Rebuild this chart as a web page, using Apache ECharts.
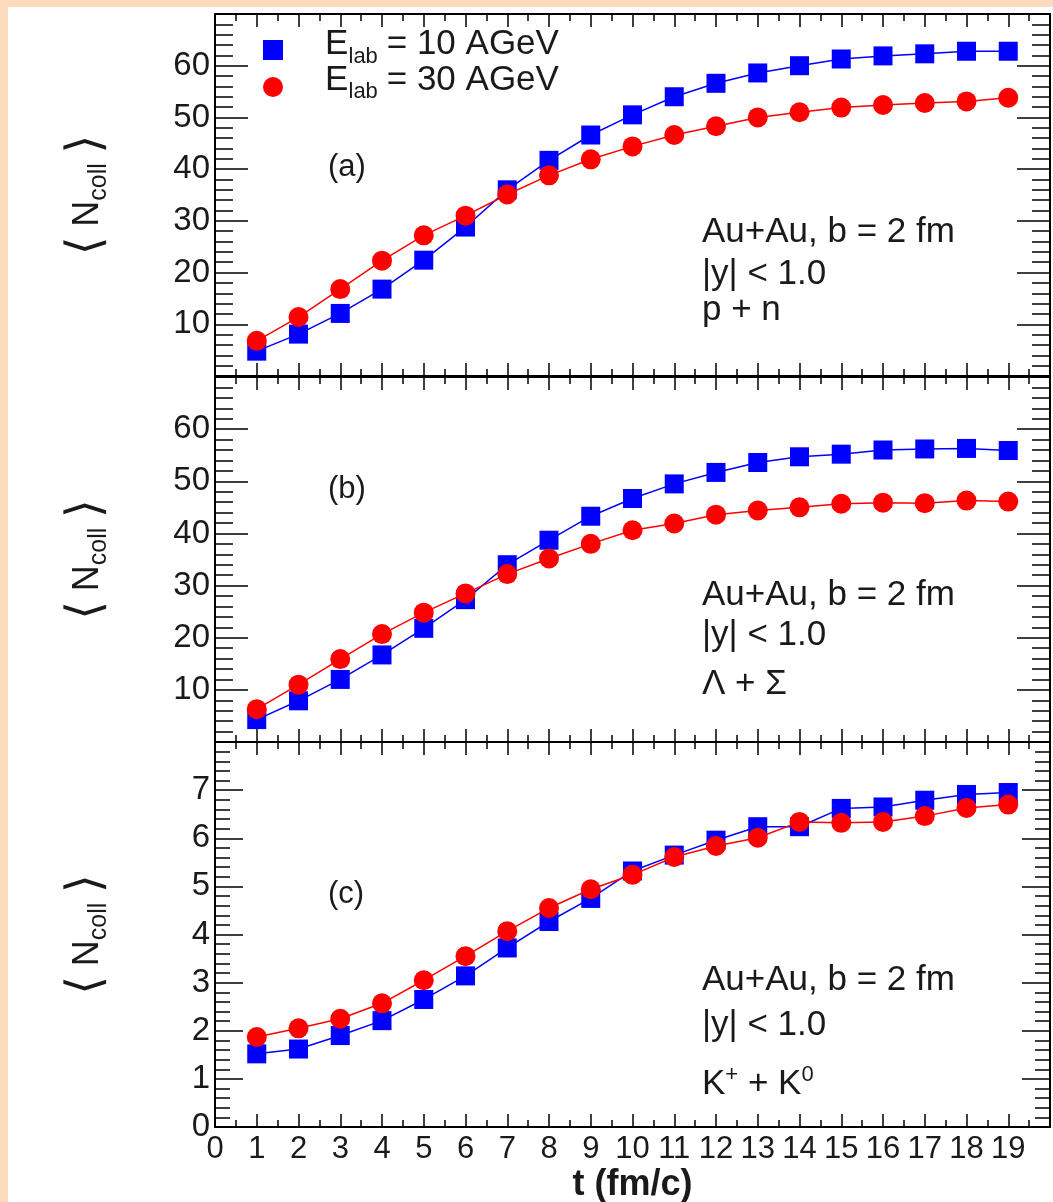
<!DOCTYPE html>
<html><head><meta charset="utf-8">
<script src="https://cdn.jsdelivr.net/npm/echarts@6/dist/echarts.min.js"></script>
<style>html,body{margin:0;padding:0;background:#fcdabd;} #c{width:1053px;height:1202px;}</style>
</head><body><div id="c"></div>
<script>
// ---- data ----
const times = [1,2,3,4,5,6,7,8,9,10,11,12,13,14,15,16,17,18,19];
const seriesNames = ['E10', 'E30'];
const legendValues = [' = 10 AGeV', ' = 30 AGeV'];
// panel (a): p + n
const pn10 = [4.8, 8.1, 12.1, 16.8, 22.4, 28.8, 36.0, 41.7, 46.6, 50.5, 54.0, 56.6, 58.6, 60.0, 61.3, 61.9, 62.3, 62.8, 62.8];
const pn30 = [6.8, 11.4, 16.8, 22.3, 27.2, 31.0, 35.1, 38.8, 41.9, 44.4, 46.6, 48.3, 50.0, 51.0, 51.9, 52.4, 52.8, 53.1, 53.8];
// panel (b): Lambda + Sigma
const ls10 = [4.3, 7.9, 12.0, 16.7, 21.8, 27.3, 34.0, 38.7, 43.3, 46.7, 49.5, 51.7, 53.6, 54.7, 55.2, 56.0, 56.2, 56.3, 55.9];
const ls30 = [6.3, 11.0, 15.9, 20.7, 24.8, 28.5, 32.2, 35.2, 38.0, 40.6, 41.9, 43.6, 44.4, 45.0, 45.7, 45.9, 45.8, 46.3, 46.1];
// panel (c): K+ + K0
const kk10 = [1.52, 1.62, 1.90, 2.21, 2.65, 3.14, 3.72, 4.27, 4.75, 5.32, 5.65, 5.96, 6.24, 6.24, 6.62, 6.65, 6.79, 6.91, 6.95];
const kk30 = [1.87, 2.05, 2.25, 2.57, 3.05, 3.55, 4.07, 4.55, 4.94, 5.24, 5.61, 5.84, 6.01, 6.34, 6.32, 6.34, 6.46, 6.63, 6.70];
const panelLabels = ['(a)', '(b)', '(c)'];
const particleLabels = ['p + n', 'Λ + Σ', '{m|K}{sup|+}{m| + K}{sup|0}'];
const yMax = [70, 70, 8];
const yStep = [10, 10, 1];

// ---- chart ----
const FONT = 'Liberation Sans, Arial, sans-serif';
const BLUE = '#0000ff', RED = '#ff0000', INK = '#1a1a1a';
const chart = echarts.init(document.getElementById('c'));

const grids = [
  {left: 215, top: 14, width: 835, height: 362, outerBoundsMode: 'none'},
  {left: 215, top: 377, width: 835, height: 365, outerBoundsMode: 'none'},
  {left: 215, top: 742, width: 835, height: 385, outerBoundsMode: 'none'}
];

const axisLineStyle = {show: true, onZero: false, lineStyle: {color: '#000', width: 2}};
const xAxes = [], yAxes = [], series = [];
const pairs = (ys) => times.map((t, i) => [t, ys[i]]);
const data10 = [pn10, ls10, kk10], data30 = [pn30, ls30, kk30];

for (let g = 0; g < 3; g++) {
  ['bottom', 'top'].forEach(pos => {
    xAxes.push({
      type: 'value', gridIndex: g, position: pos, min: 0, max: 20, interval: 1,
      axisLine: axisLineStyle,
      axisTick: {show: true, inside: true, length: 13, lineStyle: {color: '#000', width: 1.5}},
      minorTick: {show: true, splitNumber: 2, length: 7, lineStyle: {color: '#000', width: 1.5}},
      splitLine: {show: false}, minorSplitLine: {show: false},
      axisLabel: {show: g === 2 && pos === 'bottom', fontSize: 31, fontFamily: FONT, color: INK, margin: 7,
        formatter: v => v === 20 ? '' : String(v)},
      name: (g === 2 && pos === 'bottom') ? 't (fm/c)' : '',
      nameLocation: 'middle', nameGap: 40,
      nameTextStyle: {fontSize: 36, fontWeight: 'bold', fontFamily: FONT, color: INK}
    });
  });
  const big = g < 2;
  ['left', 'right'].forEach(pos => {
    yAxes.push({
      type: 'value', gridIndex: g, position: pos, min: 0, max: yMax[g], interval: yStep[g],
      axisLine: axisLineStyle,
      axisTick: {show: true, inside: true, length: big ? 33 : 28, lineStyle: {color: '#000', width: 1.5}},
      minorTick: {show: true, splitNumber: 5, length: big ? 18 : 15, lineStyle: {color: '#000', width: 1.5}},
      splitLine: {show: false}, minorSplitLine: {show: false},
      axisLabel: {show: pos === 'left', fontSize: 33, fontFamily: FONT, color: INK, margin: 5,
        formatter: v => (v === yMax[g] || (big && v === 0)) ? '' : String(v)},
      name: pos === 'left' ? '{br|⟨} {n|N}{s|coll} {br|⟩}' : '',
      nameLocation: 'middle', nameRotate: 90, nameGap: 103,
      nameTextStyle: {fontSize: 35, fontFamily: FONT, color: INK,
        rich: {
          br: {fontSize: 48, fontFamily: 'DejaVu Sans', color: INK},
          n: {fontSize: 36, fontFamily: FONT, color: INK},
          s: {fontSize: 25, fontFamily: FONT, color: INK, verticalAlign: 'bottom', lineHeight: 22}
        }}
    });
  });
  series.push({
    name: seriesNames[0], type: 'line', xAxisIndex: 2 * g, yAxisIndex: 2 * g,
    data: pairs(data10[g]), symbol: 'rect', symbolSize: 19,
    itemStyle: {color: BLUE}, lineStyle: {color: BLUE, width: 1.5}, z: 3, animation: false
  });
  series.push({
    name: seriesNames[1], type: 'line', xAxisIndex: 2 * g, yAxisIndex: 2 * g,
    data: pairs(data30[g]), symbol: 'circle', symbolSize: 20,
    itemStyle: {color: RED}, lineStyle: {color: RED, width: 1.5}, z: 4, animation: false
  });
}

const graphics = [
  {type: 'rect', shape: {x: 8, y: 7, width: 1045, height: 1195}, style: {fill: '#ffffff'}, z: -10, silent: true}
];
// legend text: E with subscript "lab"
const legendCapY = [44.5, 80];
for (let k = 0; k < 2; k++) {
  graphics.push({type: 'text', x: 325, y: legendCapY[k], z: 10,
    style: {text: 'E', fontSize: 35, fontFamily: FONT, fill: INK, verticalAlign: 'middle'}});
  graphics.push({type: 'text', x: 348.5, y: legendCapY[k] + 12, z: 10,
    style: {text: 'lab', fontSize: 22, fontFamily: FONT, fill: INK, verticalAlign: 'middle'}});
  graphics.push({type: 'text', x: 377, y: legendCapY[k], z: 10,
    style: {text: legendValues[k], fontSize: 35, fontFamily: FONT, fill: INK, verticalAlign: 'middle'}});
}
const textTops = [[232, 274, 310], [595, 635, 684], [980, 1025, 1084]];
const labelY = [167, 489, 894];
for (let g = 0; g < 3; g++) {
  graphics.push({type: 'text', x: 328, y: labelY[g], z: 10,
    style: {text: panelLabels[g], fontSize: 31, fontFamily: FONT, fill: INK, verticalAlign: 'middle'}});
  graphics.push({type: 'text', x: 702, y: textTops[g][0], z: 10,
    style: {text: 'Au+Au, b = 2 fm', fontSize: 35, fontFamily: FONT, fill: INK, verticalAlign: 'middle'}});
  graphics.push({type: 'text', x: 702, y: textTops[g][1], z: 10,
    style: {text: '|y| < 1.0', fontSize: 35, fontFamily: FONT, fill: INK, verticalAlign: 'middle'}});
  graphics.push({type: 'text', x: 702, y: textTops[g][2], z: 10,
    style: {text: particleLabels[g], fontSize: 35, fontFamily: FONT, fill: INK, verticalAlign: 'middle',
      rich: {m: {fontSize: 35, fontFamily: FONT, color: INK, lineHeight: 40},
             sup: {fontSize: 22, fontFamily: FONT, color: INK, lineHeight: 22, verticalAlign: 'top'}}}});
}

chart.setOption({
  animation: false,
  backgroundColor: '#fcdabd',
  grid: grids,
  xAxis: xAxes,
  yAxis: yAxes,
  series: series,
  legend: {
    orient: 'vertical', left: 263, top: 40, padding: 0, itemGap: 17,
    itemWidth: 20, itemHeight: 20, selectedMode: false,
    data: [{name: 'E10', icon: 'rect'}, {name: 'E30', icon: 'circle'}],
    formatter: () => '',
    textStyle: {fontSize: 20, fontFamily: FONT, color: INK}
  },
  graphic: graphics
});
</script></body></html>
